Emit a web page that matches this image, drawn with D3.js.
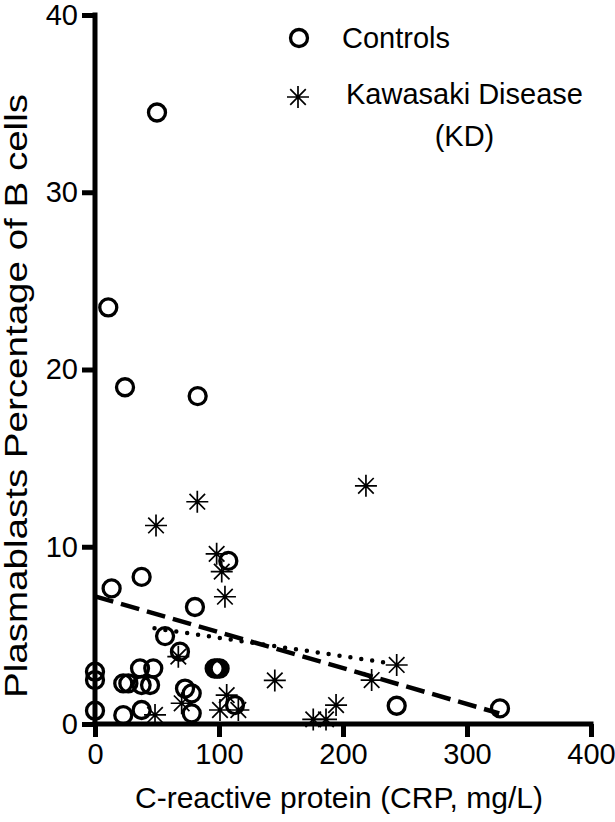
<!DOCTYPE html>
<html>
<head>
<meta charset="utf-8">
<script src="https://cdn.jsdelivr.net/npm/d3@7"></script>
<style>
  html, body { margin: 0; padding: 0; background: #fff; }
  svg { display: block; }
  text { font-family: "Liberation Sans", Arial, Helvetica, sans-serif; fill: #000; }
</style>
</head>
<body>
<svg id="chart" width="615" height="822"></svg>
<script>
// ---- data ----
const controlsCRP = [50, 10.7, 24.2, 82.8, 13.4, 37.6, 80.6, 107.5, 56.5, 68.5,
                     96.5, 98.5, 100.5, 0, 0, 0, 22.8, 26.9, 36.3, 47.0,
                     37.6, 44.4, 22.8, 37.6, 72.6, 78, 78, 112.9, 243.3, 326.6];
const controlsPct = [34.5, 23.5, 19.0, 18.5, 7.65, 8.3, 6.6, 9.2, 4.96, 4.08,
                     3.13, 3.13, 3.13, 2.95, 2.48, 0.75, 2.29, 2.29, 3.14, 3.14,
                     2.2, 2.2, 0.5, 0.79, 2.0, 1.73, 0.6, 1.07, 1.03, 0.88];
const kdCRP = [82.5, 49.2, 98.1, 102.2, 104.8, 67.2, 145, 48.4, 69.9, 106.2,
               100.8, 115.6, 218.5, 243.3, 223.1, 194.4, 176, 186.3];
const kdPct = [12.54, 11.2, 9.6, 8.6, 7.18, 3.8, 2.46, 0.51, 1.17, 1.63,
               0.79, 0.79, 13.44, 3.33, 2.48, 1.07, 0.26, 0.26];
// fitted trend lines (endpoints)
const controlsFitCRP = [0, 326];
const controlsFitPct = [7.2, 0.6];
const kdFitCRP = [48, 236];
const kdFitPct = [5.4, 3.45];
// axes
const xTicks = [0, 100, 200, 300, 400];
const yTicks = [0, 10, 20, 30, 40];
const xDomain = [0, 400];
const yDomain = [0, 40];
const legendLabels = ["Controls", "Kawasaki Disease", "(KD)"];
const xTitle = "C-reactive protein (CRP, mg/L)";
const yTitle = "Plasmablasts Percentage of B cells";

// ---- drawing ----
const svg = d3.select("#chart");
const FONT = 29;
const x = d3.scaleLinear().domain(xDomain).range([95, 591]);
const y = d3.scaleLinear().domain(yDomain).range([724, 15]);

const axisW = 5;

const gx = svg.append("g").attr("transform", `translate(0,${y(0)})`)
  .call(d3.axisBottom(x).tickValues(xTicks).tickSize(13).tickSizeOuter(0).tickPadding(6));
const gy = svg.append("g").attr("transform", `translate(${x(0)},0)`)
  .call(d3.axisLeft(y).tickValues(yTicks).tickSize(13).tickSizeOuter(0).tickPadding(4));

[gx, gy].forEach(g => {
  g.select(".domain").attr("stroke", "#000").attr("stroke-width", axisW);
  g.selectAll(".tick line").attr("stroke", "#000").attr("stroke-width", axisW);
  g.selectAll(".tick text").attr("font-size", FONT)
    .attr("font-family", '"Liberation Sans", Arial, sans-serif').attr("fill", "#000");
});
// extend domains so lines meet cleanly
gx.select(".domain").attr("d", `M${x(0) - axisW / 2},0H${x(400) + axisW / 2}`);
gy.select(".domain").attr("d", `M0,${y(40) - axisW / 2}V${y(0) + axisW / 2}`);

// axis titles
svg.append("text").attr("x", (x(0) + x(400)) / 2 - 4).attr("y", 808)
  .attr("text-anchor", "middle").attr("font-size", 30).text(xTitle);
svg.append("text")
  .attr("transform", `translate(27,396) rotate(-90)`)
  .attr("text-anchor", "middle").attr("font-size", 31)
  .attr("textLength", 604).attr("lengthAdjust", "spacingAndGlyphs").text(yTitle);

// trend lines
const line = d3.line().x(d => x(d[0])).y(d => y(d[1]));
svg.append("path").datum(d3.zip(controlsFitCRP, controlsFitPct))
  .attr("d", line).attr("fill", "none").attr("stroke", "#000")
  .attr("stroke-width", 4.5).attr("stroke-dasharray", "19,8");
svg.append("path").datum(d3.zip(kdFitCRP, kdFitPct))
  .attr("d", line).attr("fill", "none").attr("stroke", "#000")
  .attr("stroke-width", 4.5).attr("stroke-linecap", "round").attr("stroke-dasharray", "0,11");

// markers
const R = 8.5;
function starPath(s) {
  let p = "";
  for (let i = 0; i < 4; i++) {
    const a = i * Math.PI / 4;
    const dx = Math.sin(a) * s, dy = Math.cos(a) * s;
    p += `M${-dx},${-dy}L${dx},${dy}`;
  }
  return p;
}
svg.append("g").selectAll("circle").data(d3.zip(controlsCRP, controlsPct)).join("circle")
  .attr("cx", d => x(d[0])).attr("cy", d => y(d[1])).attr("r", R)
  .attr("fill", "none").attr("stroke", "#000").attr("stroke-width", 3.3);
svg.append("g").selectAll("path").data(d3.zip(kdCRP, kdPct)).join("path")
  .attr("transform", d => `translate(${x(d[0])},${y(d[1])})`)
  .attr("d", starPath(11)).attr("fill", "none").attr("stroke", "#000").attr("stroke-width", 1.7);

// legend
const lg = svg.append("g");
lg.append("circle").attr("cx", 299).attr("cy", 38).attr("r", R)
  .attr("fill", "none").attr("stroke", "#000").attr("stroke-width", 3.3);
lg.append("text").attr("x", 342).attr("y", 48).attr("font-size", FONT).text(legendLabels[0]);
lg.append("path").attr("transform", "translate(298,97)").attr("d", starPath(11))
  .attr("fill", "none").attr("stroke", "#000").attr("stroke-width", 1.7);
const t2 = lg.append("text").attr("x", 346).attr("y", 104).attr("font-size", FONT).text(legendLabels[1]);
const w2 = t2.node().getComputedTextLength();
lg.append("text").attr("x", 346 + w2 / 2).attr("y", 146).attr("text-anchor", "middle")
  .attr("font-size", FONT).text(legendLabels[2]);
</script>
</body>
</html>
